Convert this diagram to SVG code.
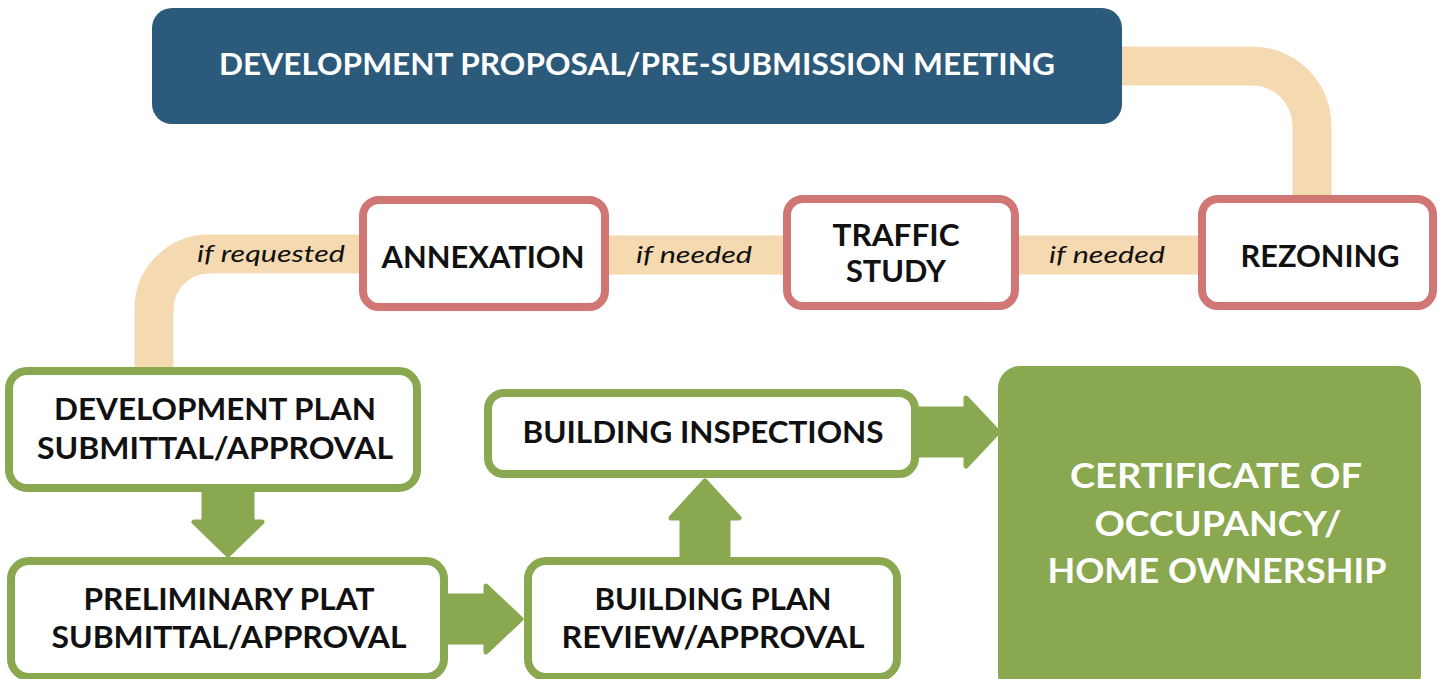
<svg xmlns="http://www.w3.org/2000/svg" width="1443" height="679" viewBox="0 0 1443 679">
<style>
.bg{fill:#ffffff}
.band{fill:none;stroke:#F5D9B0;stroke-width:39}
.redbox{fill:#ffffff;stroke:#D07674;stroke-width:8}
.greenbox{fill:#ffffff;stroke:#8AA84F;stroke-width:8}
.greenfill{fill:#8AA84F}
.arrow{fill:#8AA84F;stroke:#8AA84F;stroke-width:5;stroke-linejoin:round}
.lbl{font-family:Lato,"Liberation Sans",sans-serif;font-weight:bold;font-size:31px;fill:#111111;text-anchor:middle}
.wlbl{font-family:Lato,"Liberation Sans",sans-serif;font-weight:bold;font-size:34px;fill:#ffffff;text-anchor:middle}
.cond{font-family:Lato,"Liberation Sans",sans-serif;font-style:italic;font-size:24px;fill:#111111;text-anchor:middle}
</style>
<rect class="bg" x="0" y="0" width="1443" height="679"/>
<g id="connectors">
<path class="band" d="M1115 66 H1252 A60 60 0 0 1 1312 126 V205"/>
<path class="band" d="M1205 255 H1010"/>
<path class="band" d="M790 255 H600"/>
<path class="band" d="M365 254 H209 A55 55 0 0 0 154 309 V375"/>
<polygon class="arrow" points="204,490 252,490 252,522 262,522 228,555 194,522 204,522"/>
<polygon class="arrow" points="446,596 486,596 486,586 521,619 486,652 486,642 446,642"/>
<polygon class="arrow" points="682,558 682,518 671,518 705,481 739,518 728,518 728,558"/>
<polygon class="arrow" points="917,409 966,409 966,398 998,432 966,466 966,455 917,455"/>
<text class="cond" x="271" y="262" textLength="148" lengthAdjust="spacingAndGlyphs">if requested</text>
<text class="cond" x="694" y="263" textLength="116" lengthAdjust="spacingAndGlyphs">if needed</text>
<text class="cond" x="1107" y="263" textLength="116" lengthAdjust="spacingAndGlyphs">if needed</text>
</g>
<g id="proposal">
<rect x="152" y="8" width="970" height="116" rx="20" fill="#2C5A7A"/>
<text class="lbl" x="637" y="75" fill="#ffffff" style="fill:#ffffff;font-size:30px" textLength="836" lengthAdjust="spacingAndGlyphs">DEVELOPMENT PROPOSAL/PRE-SUBMISSION MEETING</text>
</g>
<g id="annexation">
<rect class="redbox" x="363" y="200" width="242" height="107" rx="16"/>
<text class="lbl" x="483" y="268" textLength="203" lengthAdjust="spacingAndGlyphs">ANNEXATION</text>
</g>
<g id="traffic">
<rect class="redbox" x="787" y="199" width="228" height="107" rx="16"/>
<text class="lbl" x="896" y="246" textLength="127" lengthAdjust="spacingAndGlyphs">TRAFFIC</text>
<text class="lbl" x="896" y="282" textLength="100" lengthAdjust="spacingAndGlyphs">STUDY</text>
</g>
<g id="rezoning">
<rect class="redbox" x="1202" y="199" width="231" height="107" rx="16"/>
<text class="lbl" x="1320" y="267" textLength="159" lengthAdjust="spacingAndGlyphs">REZONING</text>
</g>
<g id="devplan">
<rect class="greenbox" x="9" y="371" width="408" height="117" rx="18"/>
<text class="lbl" x="215" y="420" textLength="322" lengthAdjust="spacingAndGlyphs">DEVELOPMENT PLAN</text>
<text class="lbl" x="215" y="459" textLength="356" lengthAdjust="spacingAndGlyphs">SUBMITTAL/APPROVAL</text>
</g>
<g id="prelimplat">
<rect class="greenbox" x="11" y="561" width="433" height="116" rx="18"/>
<text class="lbl" x="229" y="610" textLength="291" lengthAdjust="spacingAndGlyphs">PRELIMINARY PLAT</text>
<text class="lbl" x="229" y="648" textLength="355" lengthAdjust="spacingAndGlyphs">SUBMITTAL/APPROVAL</text>
</g>
<g id="buildingplan">
<rect class="greenbox" x="528" y="561" width="369" height="116" rx="18"/>
<text class="lbl" x="713" y="610" textLength="237" lengthAdjust="spacingAndGlyphs">BUILDING PLAN</text>
<text class="lbl" x="713" y="648" textLength="303" lengthAdjust="spacingAndGlyphs">REVIEW/APPROVAL</text>
</g>
<g id="inspections">
<rect class="greenbox" x="488" y="393" width="427" height="81" rx="16"/>
<text class="lbl" x="703" y="443" textLength="361" lengthAdjust="spacingAndGlyphs">BUILDING INSPECTIONS</text>
</g>
<g id="certificate">
<rect class="greenfill" x="998" y="366" width="423" height="330" rx="22"/>
<text class="wlbl" x="1216" y="488" textLength="292" lengthAdjust="spacingAndGlyphs">CERTIFICATE OF</text>
<text class="wlbl" x="1218" y="536" textLength="247" lengthAdjust="spacingAndGlyphs">OCCUPANCY/</text>
<text class="wlbl" x="1217" y="583" textLength="339" lengthAdjust="spacingAndGlyphs">HOME OWNERSHIP</text>
</g>
</svg>
